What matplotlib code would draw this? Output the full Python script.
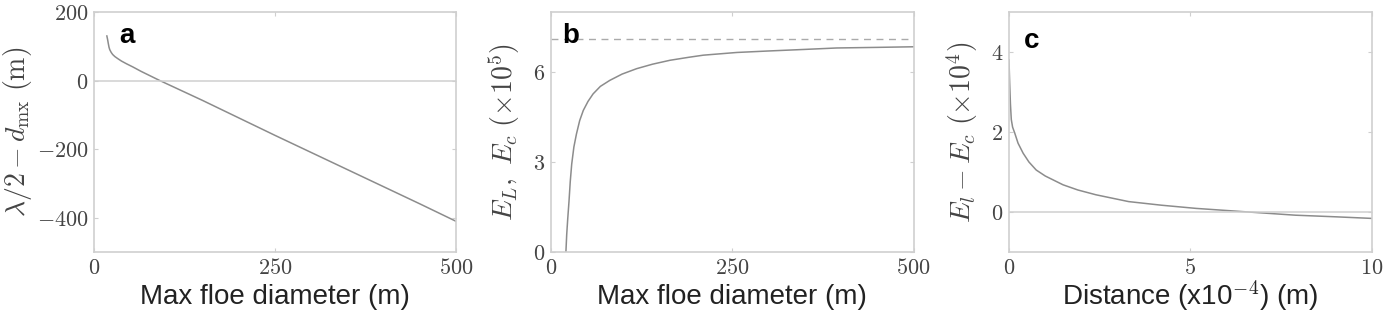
import matplotlib
matplotlib.use('Agg')
import matplotlib.pyplot as plt

plt.rcParams['mathtext.fontset'] = 'cm'
plt.rcParams['font.family'] = ['Liberation Sans', 'DejaVu Sans']

# panel a: lambda/2 - d_mx vs max floe diameter
a_x = [18, 19, 20, 21, 22, 24, 26, 29, 33, 38, 45, 54, 65, 78, 91, 150, 250, 350, 450, 500]
a_y = [130, 120, 108, 97, 90, 82, 76, 70, 64, 57, 49, 39.5, 27, 13.5, 0, -58, -160, -260, -360, -411]

# panel b: E_L, E_c (x10^5)
b_x = [20.5, 21.6, 23, 24.8, 26.5, 28.5, 31.5, 35, 39.5, 44.5, 51, 58, 68, 81, 98, 118, 140, 164,
       190, 210, 256, 300, 348, 394, 450, 500]
b_y = [0.0, 0.58, 1.1, 1.7, 2.35, 2.93, 3.5, 3.93, 4.38, 4.72, 5.02, 5.27, 5.52, 5.72, 5.93, 6.11,
       6.26, 6.39, 6.49, 6.56, 6.65, 6.70, 6.75, 6.80, 6.82, 6.84]
b_limit = 7.1

# panel c: E_l - E_c (x10^4) vs distance
c_x = [0.0, 0.01, 0.02, 0.04, 0.064, 0.1, 0.16, 0.25, 0.39, 0.55, 0.75, 1.0, 1.49, 1.9, 2.4,
       3.3, 4.2, 5.16, 6.6, 7.9, 9.0, 10.0]
c_y = [3.8, 3.5, 3.2, 2.7, 2.31, 2.12, 1.97, 1.72, 1.47, 1.25, 1.05, 0.9, 0.68, 0.55, 0.43,
       0.26, 0.17, 0.09, 0.0, -0.08, -0.12, -0.16]

line_col = '#8c8c8c'
frame_col = '#cfcfcf'
text_col = '#444444'

fig = plt.figure(figsize=(14, 3.15), dpi=100)
ax_a = fig.add_axes([0.067, 0.2, 0.259, 0.762])
ax_b = fig.add_axes([0.3936, 0.2, 0.259, 0.762])
ax_c = fig.add_axes([0.7207, 0.2, 0.259, 0.762])


def style(ax, xticks, yticks):
    for s in ax.spines.values():
        s.set_color(frame_col)
        s.set_linewidth(1.2)
    ax.set_xticks(xticks)
    ax.set_xticklabels(['$%g$' % t for t in xticks])
    ax.set_yticks(yticks)
    ax.set_yticklabels(['$%g$' % t if t >= 0 else '$-%g$' % -t for t in yticks])
    ax.tick_params(direction='in', length=3, color=frame_col, labelsize=16,
                   labelcolor=text_col, top=True, right=True, pad=4)


# a
ax_a.plot(a_x, a_y, color=line_col, lw=1.1)
ax_a.axhline(0, color=frame_col, lw=1.1)
ax_a.set_xlim(0, 500)
ax_a.set_ylim(-500, 200)
style(ax_a, [0, 250, 500], [200, 0, -200, -400])
ax_a.set_ylabel(r'$\lambda/2 - d_{\mathrm{mx}}\ (\mathrm{m})$', fontsize=20, color=text_col, labelpad=2)
ax_a.set_xlabel('Max floe diameter (m)', fontsize=20, color='#222222', labelpad=4)
ax_a.text(0.07, 0.87, 'a', transform=ax_a.transAxes, fontsize=20, fontweight='bold', va='baseline')

# b
ax_b.plot(b_x, b_y, color=line_col, lw=1.1)
ax_b.axhline(b_limit, color='#aaaaaa', lw=1.0, ls=(0, (5, 4)))
ax_b.set_xlim(0, 500)
ax_b.set_ylim(0, 8)
style(ax_b, [0, 250, 500], [0, 3, 6])
ax_b.set_ylabel(r'$E_L,\ E_c\ (\times 10^5)$', fontsize=20, color=text_col, labelpad=8)
ax_b.set_xlabel('Max floe diameter (m)', fontsize=20, color='#222222', labelpad=4)
ax_b.text(0.03, 0.87, 'b', transform=ax_b.transAxes, fontsize=20, fontweight='bold', va='baseline')

# c
ax_c.plot(c_x, c_y, color=line_col, lw=1.1)
ax_c.axhline(0, color=frame_col, lw=1.1)
ax_c.set_xlim(0, 10)
ax_c.set_ylim(-1, 5)
style(ax_c, [0, 5, 10], [0, 2, 4])
ax_c.set_ylabel(r'$E_l - E_c\ (\times 10^4)$', fontsize=20, color=text_col, labelpad=8)
ax_c.set_xlabel('Distance (x10$^{-4}$) (m)', fontsize=20, color='#222222', labelpad=0)
ax_c.text(0.04, 0.85, 'c', transform=ax_c.transAxes, fontsize=20, fontweight='bold', va='baseline')

fig.savefig('out.png', dpi=100)
